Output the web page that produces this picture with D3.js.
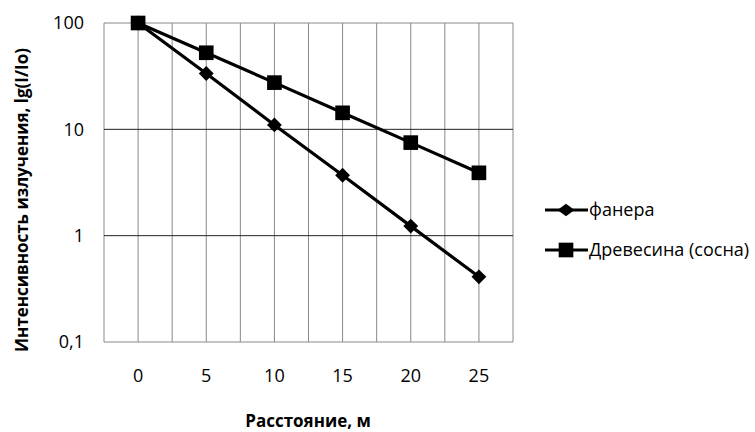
<!DOCTYPE html>
<html>
<head>
<meta charset="utf-8">
<script src="https://cdn.jsdelivr.net/npm/d3@7"></script>
<style>
  body { margin: 0; background: #fff; }
  text { font-family: "Open Sans", "Noto Sans", sans-serif; fill: #000; }
</style>
</head>
<body>
<div id="chart"></div>
<script>
// data
const distances = [0, 5, 10, 15, 20, 25]
const plywood = [100, 33.5, 11, 3.7, 1.23, 0.41]
const pine = [100, 52.5, 27.5, 14.3, 7.5, 3.9]
const yTicks = [0.1, 1, 10, 100]
const seriesNames = ["фанера", "Древесина (сосна)"]

const w = 755
const h = 432
const margin = { left: 104, top: 23, right: 242, bottom: 90 }
const iw = w - margin.left - margin.right
const ih = h - margin.top - margin.bottom

const svg = d3.select("#chart").append("svg")
  .attr("width", w)
  .attr("height", h)

const g = svg.append("g")
  .attr("transform", `translate(${margin.left},${margin.top})`)

// category axis like the spreadsheet one
const x = d3.scaleBand()
  .domain(distances)
  .range([0, iw])

const y = d3.scaleLog()
  .domain([0.1, 100])
  .range([ih, 0])

// vertical grid: band edges and band centres
const vLines = []
distances.forEach(d => {
  vLines.push(x(d))
  vLines.push(x(d) + x.bandwidth() / 2)
})
vLines.push(iw)

g.append("g")
  .selectAll("line")
  .data(vLines)
  .enter()
  .append("line")
  .attr("x1", d => d).attr("x2", d => d)
  .attr("y1", 0).attr("y2", ih)
  .attr("stroke", "#888")
  .attr("stroke-width", 1)

g.append("g")
  .selectAll("line")
  .data(yTicks)
  .enter()
  .append("line")
  .attr("x1", 0).attr("x2", iw)
  .attr("y1", d => y(d)).attr("y2", d => y(d))
  .attr("stroke", d => (d === 1 || d === 10) ? "#222" : "#888")
  .attr("stroke-width", 1)

// y labels
const fmt = d => String(d).replace(".", ",")
const yAxis = d3.axisLeft(y)
  .tickValues(yTicks)
  .tickFormat(fmt)
  .tickSize(0)
  .tickPadding(20)

g.append("g")
  .call(yAxis)
  .call(a => a.select(".domain").remove())
  .selectAll("text")
  .style("font-size", "18px")
  .style("font-family", "'Open Sans', sans-serif")
  .attr("fill", "#000")

const xAxis = d3.axisBottom(x)
  .tickSize(0)
  .tickPadding(27)

g.append("g")
  .attr("transform", `translate(0,${ih})`)
  .call(xAxis)
  .call(a => a.select(".domain").remove())
  .selectAll("text")
  .style("font-size", "18px")
  .style("font-family", "'Open Sans', sans-serif")
  .attr("fill", "#000")

// axis titles
svg.append("text")
  .attr("x", 308)
  .attr("y", 427)
  .attr("text-anchor", "middle")
  .style("font-size", "17px")
  .style("font-weight", "bold")
  .text("Расстояние, м")

svg.append("text")
  .attr("transform", `translate(28,200) rotate(-90)`)
  .attr("text-anchor", "middle")
  .style("font-size", "17px")
  .style("font-weight", "bold")
  .text("Интенсивность излучения, lg(I/Io)")

const cx = d => x(d) + x.bandwidth() / 2
const line = d3.line()
  .x((d, i) => cx(distances[i]))
  .y(d => y(d))

// diamond: a square turned by 45 degrees
const diamondPath = d3.symbol().type(d3.symbolSquare).size(110)
const square = d3.symbol().type(d3.symbolSquare).size(215)

const series = [
  { name: seriesNames[0], values: plywood, sym: diamondPath, rot: 45 },
  { name: seriesNames[1], values: pine, sym: square, rot: 0 }
]

series.forEach(s => {
  g.append("path")
    .datum(s.values)
    .attr("d", line)
    .attr("fill", "none")
    .attr("stroke", "#000")
    .attr("stroke-width", 3.2)

  g.append("g")
    .selectAll("path")
    .data(s.values)
    .enter()
    .append("path")
    .attr("transform", (d, i) => `translate(${cx(distances[i])},${y(d)}) rotate(${s.rot})`)
    .attr("d", s.sym)
    .attr("fill", "#000")
})

// legend
const legend = svg.append("g")
  .attr("transform", "translate(545,0)")

series.forEach((s, i) => {
  const ly = 210 + i * 40
  legend.append("line")
    .attr("x1", 0).attr("x2", 43)
    .attr("y1", ly).attr("y2", ly)
    .attr("stroke", "#000")
    .attr("stroke-width", 3.2)
  legend.append("path")
    .attr("transform", `translate(21,${ly}) ${i === 0 ? "scale(1.15,0.85) " : ""}rotate(${s.rot})`)
    .attr("d", s.sym)
    .attr("fill", "#000")
  legend.append("text")
    .attr("x", 44)
    .attr("y", ly)
    .attr("dy", "0.35em")
    .style("font-size", "18px")
    .text(s.name)
})
</script>
</body>
</html>
